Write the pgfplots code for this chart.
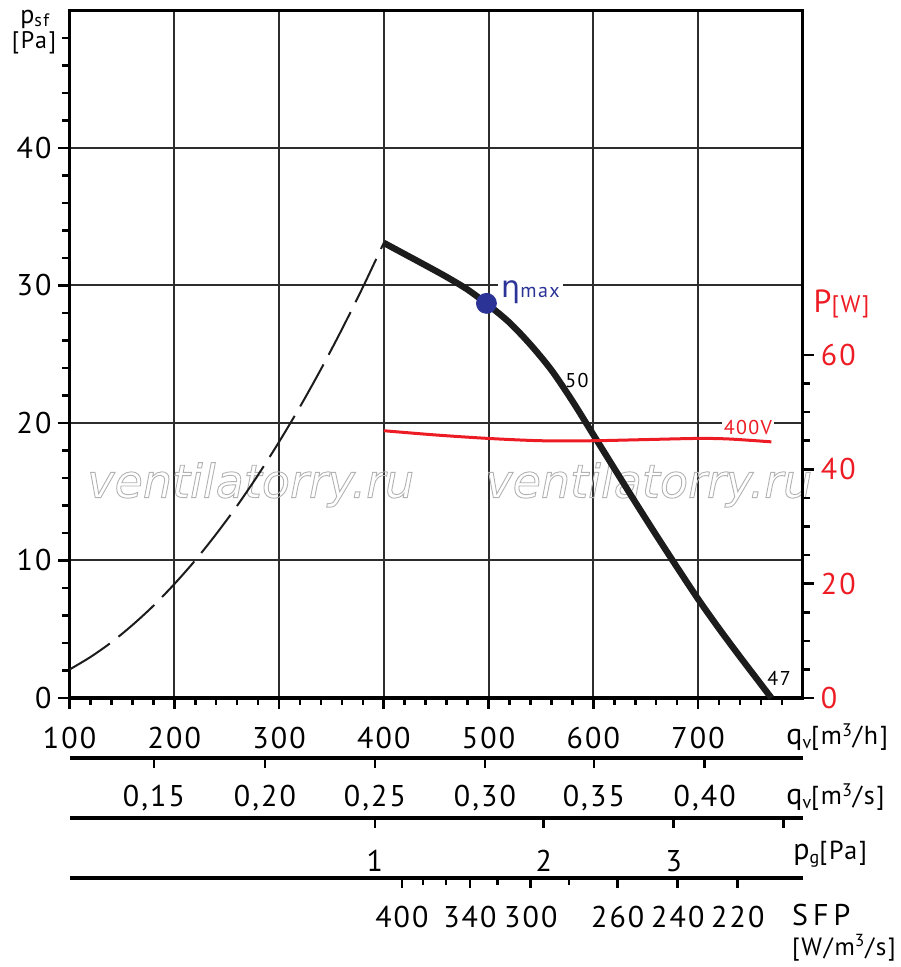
\documentclass[border=0pt]{standalone}
\usepackage{pgfplots}
\pgfplotsset{compat=1.18}
\usepackage{fontspec}
\setmainfont{PT Sans}[LetterSpace=7]
\newfontfamily\grk{DejaVu Sans}
\newfontfamily\wmfont{DejaVu Sans}
\definecolor{pred}{RGB}{237,28,36}
\definecolor{pblue}{RGB}{43,52,150}
\definecolor{gridc}{RGB}{45,45,45}
\definecolor{curvec}{RGB}{28,28,28}
\newcommand{\fs}[1]{\fontsize{#1}{#1}\selectfont}
\newcommand{\wm}{{\special{pdf:literal direct 1 Tr 0.45 w}ventilatorry.ru\special{pdf:literal direct 0 Tr}}}
\begin{document}
\begin{tikzpicture}
\pgfplotsset{
  base/.style={
    scale only axis, x=0.52381pt, xmin=100, xmax=800,
    /pgf/number format/assume math mode=true,
    tick label style={font=\fs{15}},
    tick style={black, line width=1.3pt},
  },
  lower/.style={
    base, at={(0,#1)}, anchor=south west,
    y=1pt, ymin=0, ymax=1, hide y axis,
    axis x line=bottom, axis line style={-, line width=1.6pt},
    tick align=outside, xtick pos=bottom,
    major tick length=5pt, minor tick length=3.5pt,
  },
}
% ---------------- main axis (p_sf) ----------------
\begin{axis}[base, y=6.875pt, ymin=0, ymax=50,
  axis line style={line width=1.6pt},
  tick pos=left, tick align=outside,
  major tick length=5.5pt, minor tick length=3.5pt,
  xtick={100,200,...,700}, minor xtick={120,140,...,780},
  ytick={0,10,...,40}, minor ytick={2,4,...,48},
  grid=major, major grid style={gridc, line width=1pt},
  xticklabel style={yshift=-5.5pt},
  clip=false,
]
\node[font=\wmfont\itshape\fs{23}, text=black!30] at (axis cs:273,15.5) {\wm};
\node[font=\wmfont\itshape\fs{23}, text=black!30] at (axis cs:653,15.5) {\wm};
% system curve (dashed)
\addplot[curvec, line width=1pt, dash pattern=on 24pt off 5.5pt, smooth] coordinates {
(100,2.07) (120,2.98) (140,4.05) (160,5.30) (180,6.70) (200,8.28) (220,10.01)
(240,11.92) (260,13.98) (280,16.22) (300,18.62) (320,21.18) (340,23.91)
(360,26.81) (380,29.87) (400,33.1)};
% fan curve
\addplot[curvec, line width=3.2pt, smooth, line join=round] coordinates {
(400,33.1) (420,32.28) (440,31.46) (460,30.62) (480,29.7) (500,28.57)
(520,27.3) (540,25.7) (560,23.85) (580,21.6) (600,19.15) (620,16.7)
(640,14.25) (660,11.85) (680,9.5) (700,7.2) (720,5.05) (740,3.0)
(760,1.0) (770,0)};
\addplot[only marks, mark=*, mark size=5pt, pblue] coordinates {(498,28.7)};
\node[fill=white, inner sep=1.5pt, anchor=base west, text=pblue] at (axis cs:509,29.1)
  {{\grk\fs{15}η}{\fs{10}max}};
\node[font=\fs{10}] at (axis cs:584.4,23.1) {50};
\node[font=\fs{10}] at (axis cs:777.3,1.4) {47};
\node[font=\fs{10}, text=pred, fill=white, inner sep=1pt] at (axis cs:747.6,19.7) {400V};
\end{axis}
% ---------------- right axis (P) ----------------
\begin{axis}[base, y=2.8585pt, ymin=0, ymax=120.26,
  axis x line=none, axis y line=right, axis line style={-, line width=1.6pt},
  tick align=outside, ytick pos=right,
  major tick length=5.5pt, minor tick length=3.5pt,
  ytick={0,20,40,60}, minor ytick={5,10,...,55},
  yticklabel style={text=pred},
  clip=false,
]
\addplot[pred, line width=1.5pt, smooth] coordinates {
(400,46.75) (450,46.0) (500,45.4) (550,45.0) (600,45.0) (650,45.2)
(700,45.4) (730,45.3) (770,44.8)};
\end{axis}
% ---------------- lower scales ----------------
\begin{axis}[lower=-30pt,
  xtick={180.6,286.5,391.5,496.5,600.5,706.3},
  xticklabels={{0,15},{0,20},{0,25},{0,30},{0,35},{0,40}},
  xticklabel style={yshift=-5pt}]
\end{axis}
\begin{axis}[lower=-60pt,
  xtick={391.5,552.7,676.8,781.7},
  xticklabels={1,2,3,{}},
  xticklabel style={yshift=-7.5pt}]
\end{axis}
\begin{axis}[lower=-90pt,
  xtick={417.3,482.2,540.3,623.3,680.6,737.9},
  xticklabels={400,340,300,260,240,220},
  minor xtick={437.3,459.2,508.8,576.6},
  xticklabel style={yshift=-5.5pt}]
\end{axis}
% ---------------- axis titles ----------------
\node[anchor=base west, inner sep=0pt] at (-24.75pt,337pt) {\fs{13}p\raisebox{-1.5pt}{\fs{9}sf}};
\node[anchor=center, inner sep=0pt, font=\fs{12}] at (-17.75pt,327.5pt) {[Pa]};
\node[anchor=base west, inner sep=0pt, text=pred] at (371.9pt,192.6pt) {\fs{16}P\fs{12}[W]};
\node[anchor=base west, inner sep=0pt] at (358.25pt,-23.5pt) {\fs{15}q\raisebox{-1.5pt}{\fs{9}v}\fs{13}[m\textsuperscript{3}/h]};
\node[anchor=base west, inner sep=0pt] at (358.25pt,-53.5pt) {\fs{15}q\raisebox{-1.5pt}{\fs{9}v}\fs{13}[m\textsuperscript{3}/s]};
\node[anchor=base west, inner sep=0pt] at (361.75pt,-81pt) {\fs{15}p\raisebox{-1.5pt}{\fs{9}g}\fs{13}[Pa]};
\node[anchor=base west, inner sep=0pt, font=\fs{15}] at (361.1pt,-113.5pt) {S\,F\,P};
\node[anchor=base west, inner sep=0pt, font=\fs{12.5}] at (361.1pt,-128.5pt) {[W/m\textsuperscript{3}/s]};
\pgfresetboundingbox
\path[use as bounding box] (-34.75pt,-134.5pt) rectangle (415.25pt,349pt);
\end{tikzpicture}
\end{document}
